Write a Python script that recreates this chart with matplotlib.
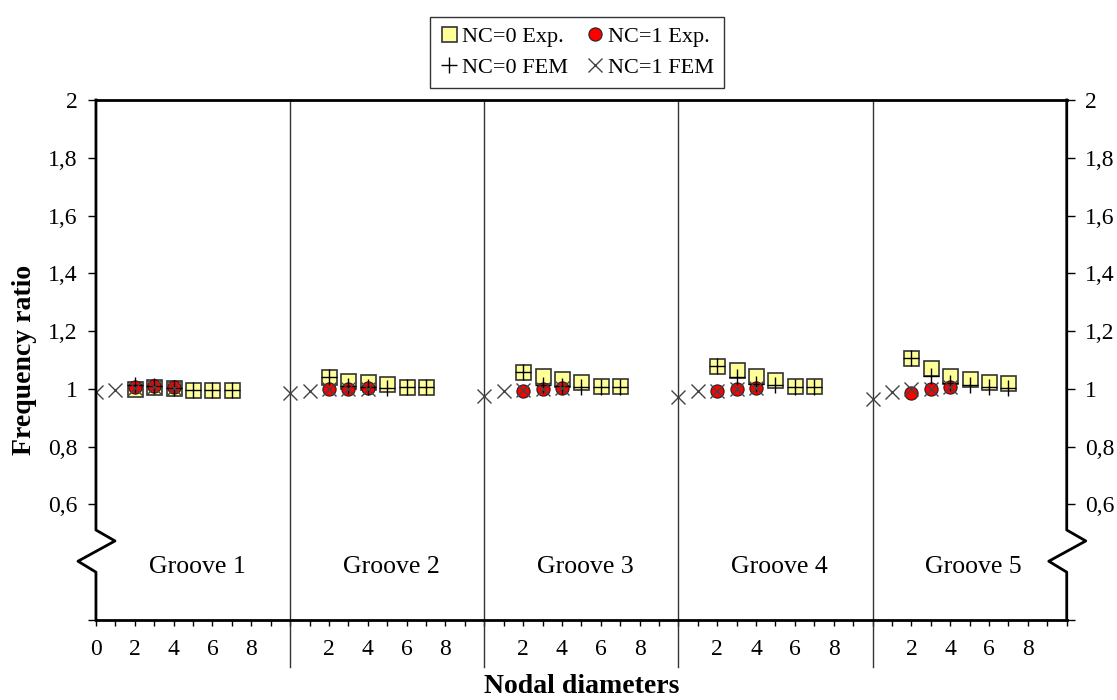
import matplotlib
matplotlib.use('Agg')
import matplotlib.pyplot as plt
import matplotlib.transforms as mtrans
from matplotlib.lines import Line2D

plt.rcParams['font.family'] = 'Liberation Serif'

# Frequency ratio per groove, read by nodal diameter
grooves = ['Groove 1', 'Groove 2', 'Groove 3', 'Groove 4', 'Groove 5']
nd_exp0 = [2, 3, 4, 5, 6, 7]      # NC=0 experimental / FEM
nd_exp1 = [2, 3, 4]               # NC=1 experimental
nd_fem1 = [0, 1, 2, 3, 4]         # NC=1 FEM

nc0_exp = [
    [0.998, 1.005, 1.002, 0.997, 0.997, 0.997],
    [1.040, 1.028, 1.024, 1.016, 1.005, 1.005],
    [1.059, 1.045, 1.033, 1.023, 1.009, 1.009],
    [1.080, 1.066, 1.044, 1.029, 1.009, 1.009],
    [1.107, 1.072, 1.043, 1.034, 1.025, 1.020],
]
nc1_exp = [
    [1.005, 1.010, 1.005],
    [0.998, 1.000, 1.002],
    [0.994, 1.000, 1.002],
    [0.991, 1.000, 1.003],
    [0.985, 0.999, 1.006],
]
nc0_fem = [
    [1.015, 1.010, 1.002, 0.997, 0.997, 0.997],
    [1.040, 1.010, 1.008, 1.004, 1.005, 1.005],
    [1.059, 1.015, 1.010, 1.008, 1.007, 1.007],
    [1.080, 1.040, 1.018, 1.012, 1.008, 1.006],
    [1.107, 1.043, 1.020, 1.013, 1.007, 1.003],
]
nc1_fem = [
    [0.990, 0.997, 1.003, 1.008, 1.004],
    [0.986, 0.993, 0.998, 1.000, 1.001],
    [0.977, 0.993, 0.995, 1.000, 1.002],
    [0.973, 0.991, 0.992, 1.000, 1.003],
    [0.964, 0.989, 0.998, 1.000, 1.006],
]

ytick_vals = [0.2, 0.6, 0.8, 1.0, 1.2, 1.4, 1.6, 1.8, 2.0]
ytick_labels = ['', '0,6', '0,8', '1', '1,2', '1,4', '1,6', '1,8', '2']

span = 10   # width of one groove section in nodal diameters

fig = plt.figure(figsize=(11.17, 7.0), dpi=100)
ax = fig.add_axes([0.0859, 0.1143, 0.8691, 0.7429])

sq_kw = dict(ls='none', marker='s', ms=10.8, mfc='#ffff99', mec='#333333', mew=1.2)
ci_kw = dict(ls='none', marker='o', ms=9.5, mfc='#ff0000', mec='#222222', mew=0.8)
pl_kw = dict(ls='none', marker='+', ms=11, color='black', mew=1.0)
xx_kw = dict(ls='none', marker='x', ms=10, color='#444444', mew=1.0)

for g in range(len(grooves)):
    off = g * span
    ax.plot([off + n for n in nd_exp0], nc0_exp[g], zorder=3, **sq_kw)
    ax.plot([off + n for n in nd_exp1], nc1_exp[g], zorder=4, **ci_kw)
    ax.plot([off + n for n in nd_exp0], nc0_fem[g], zorder=5, **pl_kw)
    ax.plot([off + n for n in nd_fem1], nc1_fem[g], zorder=5, **xx_kw)
    ax.text(off + 5.2, 0.102, grooves[g], transform=ax.get_xaxis_transform(),
            ha='center', va='center', fontsize=18.5)

ax.set_xlim(0, span * len(grooves))
ax.set_ylim(0.2, 2.0)

# section separators running through the plot and below the axis
sep_tr = mtrans.blended_transform_factory(ax.transData, ax.transAxes)
for g in range(1, len(grooves)):
    ax.plot([g * span, g * span], [1, -0.09], color='#333333', lw=1.0,
            transform=sep_tr, clip_on=False, zorder=2)

# vertical axes with a break mark
ax.spines['left'].set_visible(False)
ax.spines['right'].set_visible(False)
ax.spines['top'].set_linewidth(2)
ax.spines['bottom'].set_linewidth(2)
brk_x = [0, 0, 0.0196, -0.0185, 0, 0]
brk_y = [1, 0.173, 0.152, 0.113, 0.092, 0]
for x0 in (0, 1):
    ax.plot([x0 + v for v in brk_x], brk_y, color='black', lw=2,
            transform=ax.transAxes, clip_on=False, zorder=6)

ax.set_yticks(ytick_vals)
ax.set_yticklabels(ytick_labels)
ax.tick_params(axis='y', left=True, right=True, labelleft=True, labelright=True,
               direction='out', length=6, width=1, labelsize=17, pad=7)

xt = list(range(0, span * len(grooves) + 1))
xl = []
for i in xt:
    k = i % span
    if (k in (2, 4, 6, 8)) or i == 0:
        xl.append(str(k))
    else:
        xl.append('')
ax.set_xticks(xt)
ax.set_xticklabels(xl)
ax.tick_params(axis='x', direction='out', length=4, width=1, labelsize=17, pad=10)

ax.set_ylabel('Frequency ratio', fontsize=20, fontweight='bold', labelpad=8)
ax.set_xlabel('Nodal diameters', fontsize=20, fontweight='bold', labelpad=10)

handles = [
    Line2D([], [], **sq_kw),
    Line2D([], [], **pl_kw),
    Line2D([], [], **ci_kw),
    Line2D([], [], **xx_kw),
]
labels = ['NC=0 Exp.', 'NC=0 FEM', 'NC=1 Exp.', 'NC=1 FEM']
leg = fig.legend(handles, labels, ncol=2, loc='upper center',
                 bbox_to_anchor=(0.5166, 0.992), fontsize=16, frameon=True,
                 fancybox=False, edgecolor='black', handlelength=0.8,
                 handletextpad=0.2, columnspacing=0.8, labelspacing=0.45,
                 borderpad=0.45)
leg.get_frame().set_linewidth(1.0)

fig.savefig('out.png', dpi=100)
